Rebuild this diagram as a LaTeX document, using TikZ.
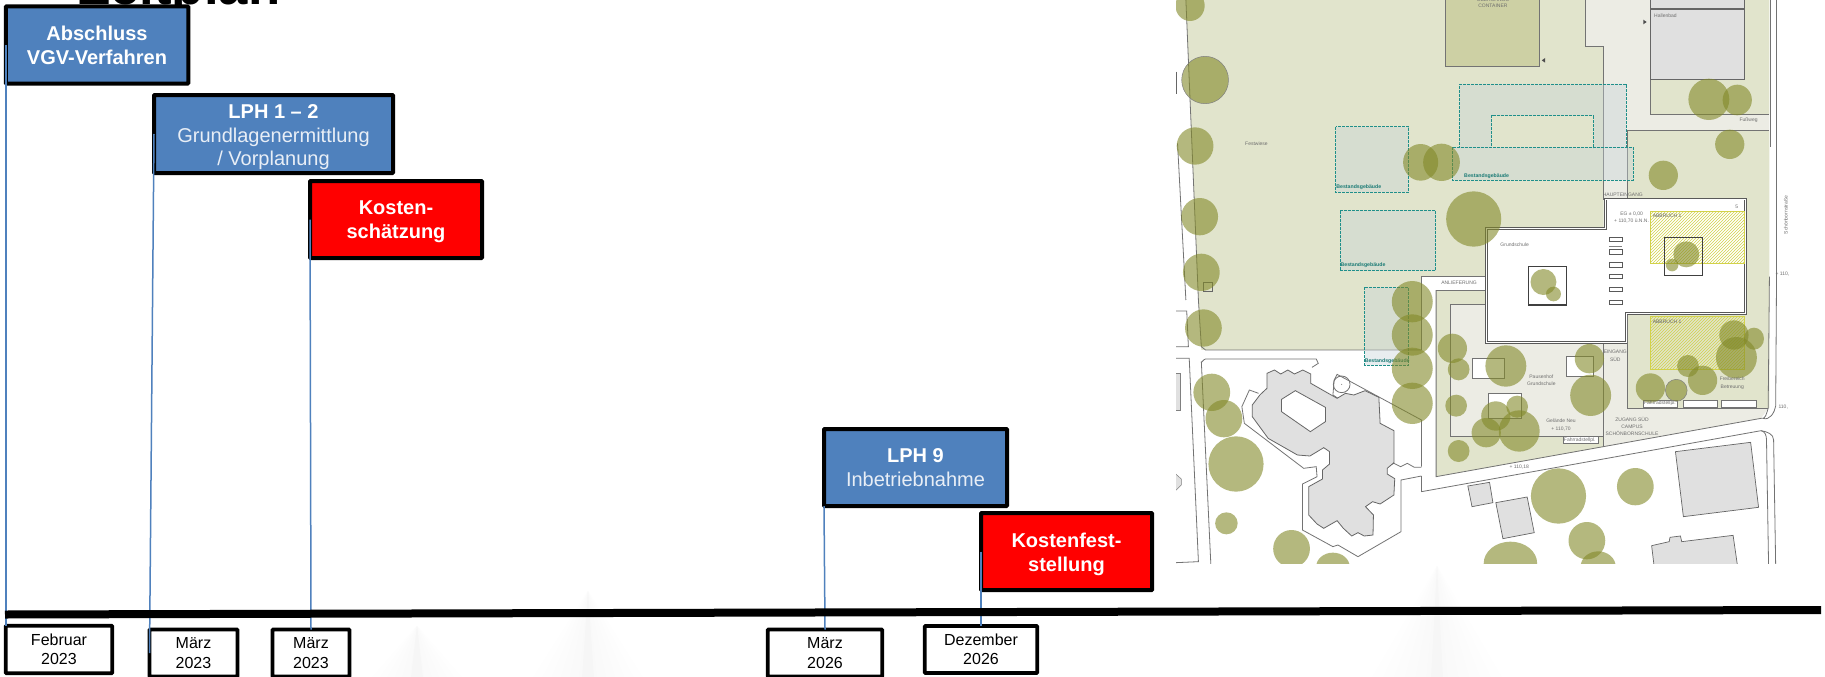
\documentclass[tikz,border=0pt]{standalone}
\usepackage{fontspec}
\setmainfont{Liberation Sans}
\usetikzlibrary{patterns}
\definecolor{boxblue}{HTML}{4F81BD}
\definecolor{linkblue}{HTML}{4F81BD}
\definecolor{lawn}{HTML}{E1E4CC}
\definecolor{paved}{HTML}{ECECE4}
\definecolor{contfill}{HTML}{CDD0A4}
\definecolor{bldg}{HTML}{E0E0E0}
\definecolor{treecol}{RGB}{130,137,40}
\definecolor{tealline}{HTML}{1F8F8A}
\definecolor{tealtint}{RGB}{197,210,215}
\definecolor{hatchcol}{HTML}{D2D24A}
\definecolor{maptext}{HTML}{6E6E6E}
\definecolor{subwhite}{HTML}{E8EEF6}
\tikzset{
  phase/.style={draw=black,line width=4pt,rounded corners=0.6pt,fill=boxblue,text=white,align=center,inner sep=0pt,outer sep=0pt,
    font=\fontsize{20}{23.8}\selectfont},
  costbox/.style={phase,fill=red,font=\fontsize{20}{24}\bfseries\selectfont},
  datebox/.style={draw=black,line width=3.6pt,rounded corners=0.6pt,fill=white,text=black,align=center,inner sep=0pt,outer sep=0pt,
    font=\fontsize{16}{19.5}\selectfont},
  link/.style={draw=linkblue,line width=1.5pt},
  tree/.style={fill=treecol,fill opacity=.6},
  graybd/.style={draw=black!60,line width=.9pt},
  road/.style={draw=black!55,line width=.8pt},
  teal/.style={draw=tealline,line width=.9pt,dash pattern=on 3pt off 1pt,fill=tealtint,fill opacity=.38},
  hatch/.style={draw=hatchcol,line width=.8pt,pattern=north east lines,pattern color=hatchcol},
  plan/.style={text=maptext,font=\fontsize{5}{6}\selectfont,inner sep=0pt,align=center},
  tealtxt/.style={text=tealline!85!black,font=\fontsize{5.2}{6}\bfseries\selectfont,inner sep=0pt},
}
\newcommand{\wmark}[3]{%
  \foreach \wi in {1,...,6}{\fill[black,opacity=.004] (#1,#2) -- ({#1-#3*\wi/6},677) -- ({#1+#3*\wi/6},677) -- cycle;}%
  \fill[black,opacity=.01] (#1,#2) -- ({#1-6},677) -- ({#1+6},677) -- cycle;}
\begin{document}
\begin{tikzpicture}[x=1pt,y=-1pt]
\useasboundingbox (0,0) rectangle (1825,677);
\fill[white] (0,0) rectangle (1825,677);
\wmark{417}{625}{45}
\wmark{588}{590}{55}
\wmark{1437}{565}{65}
% title, cut by the top edge
\node[anchor=base west,inner sep=0pt,font=\fontsize{52.7}{60}\bfseries\selectfont] (title) at (78,5) {Zeitplan};
% ---------- site plan ----------
\begin{scope}
\clip (1176,0) rectangle (1789,563);
\begin{scope}[xshift=1170pt,x=0.41771pt,y=-0.33333pt]
% ground
\fill[lawn] (38,0)--(995,0)--(995,140)--(1038,140)--(1038,690)--(757,690)--(757,830)--(602,830)--(602,1050)--(75,1050)--(68,900)--cycle;
\draw[road] (38,0)--(68,900)--(75,1040)--(85,1050)--(602,1050);
\fill[paved] (995,0)--(1150,0)--(1150,343)--(1435,343)--(1435,392)--(1095,392)--(1095,600)--(1038,600)--(1038,140)--(995,140)--cycle;
\fill[lawn] (1150,238)--(1375,238)--(1375,0)--(1435,0)--(1435,343)--(1150,343)--cycle;
\fill[lawn] (1095,392)--(1435,392)--(1435,1225)--(1095,1225)--(1095,595)--cycle;
\draw[road] (995,0)--(995,140)--(1038,140)--(1038,600);
\draw[road] (1150,238)--(1150,343)--(1435,343);
\draw[road] (1095,600)--(1095,392)--(1435,392);
\draw[road] (1437,0)--(1437,440);
\draw[road] (1452,0)--(1452,840);
% upper-left small lines
\draw[road] (18,430)--(38,900);
\draw[draw=black!60,line width=.6pt] (15,215)--(15,282);
% buildings upper right
\filldraw[fill=bldg,graybd] (1150,-5) rectangle (1375,25);
\filldraw[fill=bldg,graybd] (1150,28) rectangle (1375,238);
% container
\filldraw[fill=contfill,draw=black!55,line width=1pt] (660,-5) rectangle (885,201);
\fill[black!70] (898,174)--(898,188)--(890,181)--cycle;
\fill[black!70] (1133,59)--(1133,73)--(1141,66)--cycle;
% existing buildings
\filldraw[teal] (693,252)--(1092,252)--(1092,443)--(1014,443)--(1014,347)--(770,347)--(770,443)--(693,443)--cycle;
\filldraw[teal] (676,442) rectangle (1109,541);
\filldraw[teal] (397,380) rectangle (571,577);
\filldraw[teal] (407,632) rectangle (636,812);
\draw[draw=black!60,line width=.5pt] (80,848) rectangle (100,874);
\node[plan] (t1) at (207,432) {Festwiese};
\node[plan] (t2) at (1186,48) {Hallenbad};
\node[plan] (t3) at (1385,362) {Fußweg};
\node[plan] (t4) at (773,18) {CONTAINER};
\node[plan] (t5) at (773,-3) {ÜBERGANGS};
\node[plan] (t6) at (1084,583) {HAUPTEINGANG};
\node[tealtxt] (t7) at (452,562) {Bestandsgebäude};
\node[tealtxt] (t8) at (758,528) {Bestandsgebäude};
\node[tealtxt] (t9) at (462,797) {Bestandsgebäude};
\node[plan,rotate=90] (t10) at (1474,645) {Schönbornstraße};
\node[plan] (t11) at (1466,823) {+ 110,};
% anlieferung
\fill[white] (602,830) rectangle (757,870);
\draw[road] (602,1050)--(602,830)--(757,830);
\node[plan] (t12) at (692,849) {ANLIEFERUNG};
\end{scope}
\begin{scope}[xshift=1170pt,x=0.41771pt,y=-0.33333pt,yshift=-280pt]
% south yard
\fill[lawn] (637,30)--(755,30)--(755,190)--(1040,190)--(1040,500)--(637,590)--cycle;
\fill[paved] (672,73)--(755,73)--(755,190)--(1038,190)--(1038,468)--(672,468)--cycle;
\fill[paved] (1038,190)--(1095,190)--(1095,385)--(1432,385)--(1415,415)--(1040,500)--cycle;
\draw[road] (637,30)--(755,30);
\draw[road] (637,30)--(637,590)--(1415,415) to[out=-20,in=-110] (1432,385)--(1435,-10);
\draw[road] (755,73)--(672,73)--(672,468)--(1038,468);
\draw[road] (1038,190)--(1038,500);
\draw[road] (1095,100)--(1095,385)--(1432,385);
\draw[road] (1452,-10)--(1450,378) to[out=-100,in=-20] (1420,415);
\draw[road] (602,635)--(1415,452) to[out=-10,in=90] (1445,480)--(1450,860);
\draw[road] (1415,452) to[out=-10,in=90] (1428,480)--(1433,860);
\foreach \xa/\ya/\xb/\yb in {723/236/801/296,949/229/1014/289,763/340/842/415,942/470/1024/490,1133/362/1215/382,1228/362/1311/382,1320/362/1403/382}
  {\filldraw[fill=white,draw=black!55,line width=.5pt] (\xa,\ya) rectangle (\xb,\yb);}
% left road edges and stubs
\draw[road] (14,93)--(40,93)--(44,200)--(14,200);
\draw[road] (14,235)--(46,235)--(68,845)--(14,848);
\draw[road] (75,245) to[out=-90,in=180] (85,237)--(350,237)--(355,250)--(340,262);
\draw[road] (75,245)--(98,860);
\filldraw[fill=bldg,draw=black!50,line width=.5pt] (12,280)--(24,280)--(24,390)--(12,390)--cycle;
\filldraw[fill=bldg,draw=black!50,line width=.5pt] (12,580)--(27,597)--(27,615)--(15,630)--(12,630)--cycle;
% main hex building
\draw[road] (212,340)--(190,330)--(172,380)--(178,430)--(320,565)--(350,560)--(352,590)--(317,612)--(317,750)--(390,800)--(402,795)--(450,830)--(553,755)--(553,600)--(602,588);
\draw[road] (602,560)--(602,420)--(400,283)--(393,300)--(390,345)--(402,355);
\draw[road] (602,588)--(602,635);
\draw[road] (520,560)--(536,550)--(552,560)--(568,550)--(585,562)--(602,562);
\filldraw[fill=bldg,draw=black!60,line width=.8pt] (232,280)--(250,270)--(265,282)--(282,270)--(298,282)--(318,270)--(337,282)--(337,310)--(400,355)--(420,340)--(440,345)--(467,332)--(500,352)--(503,430)--(536,452)--(536,548)--(520,565)--(520,582)--(538,596)--(536,645)--(503,672)--(485,665)--(468,680)--(487,705)--(486,765)--(465,768)--(450,758)--(435,768)--(415,745)--(400,722)--(368,745)--(352,732)--(332,705)--(332,620)--(365,597)--(365,570)--(382,552)--(382,515)--(368,503)--(335,528)--(305,525)--(235,475)--(197,410)--(197,375)--(215,345)--(232,325)--cycle;
\filldraw[fill=white,draw=black!60,line width=.8pt] (267,358)--(300,332)--(372,382)--(372,425)--(336,455)--(267,395)--cycle;
\draw[road] (411,313) ellipse (20 and 25);
\fill[black!60] (411,313) circle (.5pt);
% low buildings
\filldraw[fill=bldg,draw=black!60,line width=.7pt] (713,618)--(765,607)--(773,668)--(723,680)--cycle;
\filldraw[fill=bldg,draw=black!60,line width=.7pt] (780,668)--(855,651)--(872,758)--(797,776)--cycle;
\filldraw[fill=bldg,draw=black!60,line width=.7pt] (1210,515)--(1390,487)--(1409,682)--(1229,710)--cycle;
\filldraw[fill=bldg,draw=black!60,line width=.7pt] (1153,797)--(1195,785)--(1197,772)--(1222,768)--(1225,785)--(1348,766)--(1360,870)--(1160,870)--cycle;
% school
\filldraw[fill=white,draw=black!65,line width=2.6pt] (757,-155)--(1042,-155)--(1042,-243)--(1378,-243)--(1378,100)--(1092,100)--(1092,188)--(757,188)--cycle;
\draw[white,line width=.7pt] (757,-155)--(1042,-155)--(1042,-243)--(1378,-243)--(1378,100)--(1092,100)--(1092,188)--(757,188)--cycle;
\foreach \ya/\yb in {-128/-116,-91/-76,-52/-39,-17/-4,22/35,60/73}
  {\draw[draw=black!65,line width=.6pt] (1052,\ya) rectangle (1083,\yb);}
\draw[draw=black!50,line width=.5pt] (1052,-100)--(1083,-100);
\filldraw[hatch] (1150,-207) rectangle (1375,-49);
\filldraw[hatch] (1150,110) rectangle (1375,267);
\draw[draw=black!75,line width=1.1pt] (859,-40) rectangle (950,75);
\draw[draw=black!75,line width=1.1pt] (1183,-127) rectangle (1274,-14);
\filldraw[teal] (466,22) rectangle (570,256);
\node[tealtxt] (t13) at (520,244) {Bestandsgebäude};
% trees
\foreach \xc/\yc/\rada/\radb in {
48/-823/35/46,60/-402/44/56,71/-190/44/56,75/-23/44/56,600/-353/42/55,650/-353/44/56,727/-183/66/83,
1290/-542/49/62,1358/-540/35/46,1340/-407/35/44,1181/-314/35/44,894/6/31/39,918/42/18/22,1236/-77/31/39,1202/-45/15/19,
580/65/49/62,80/144/44/56,580/165/49/62,580/265/49/62,580/370/49/62,100/337/44/56,129/416/44/56,158/552/66/83,135/730/27/33,
291/806/44/56,390/860/40/42,676/205/35/44,691/268/26/33,804/258/49/62,1004/236/35/44,1007/346/49/62,685/377/26/33,780/408/35/44,
831/380/26/33,757/458/35/44,836/453/49/62,691/513/26/33,1350/165/35/44,1398/176/24/33,1356/233/49/62,1240/258/26/33,1275/301/35/44,
1150/324/35/44,930/648/66/83,1114/620/44/56,998/782/44/56,815/850/64/65,1025/860/42/46}
  {\fill[tree] (\xc,\yc) ellipse ({\rada} and {\radb});}
\filldraw[tree,draw=black!50,line width=.5pt,draw opacity=1] (84,-600) ellipse (56 and 71);
\filldraw[tree,draw=black!50,line width=.5pt,draw opacity=1] (1212,331) ellipse (26 and 33);
% plan labels
\node[plan] (p1) at (1105,-199) {EG ± 0,00};
\node[plan] (p2) at (1105,-178) {+ 110,70 ü.N.N.};
\node[plan,text=black!60] (p3) at (1190,-192) {ABBRUCH 1};
\node[plan,text=black!60] (p4) at (1190,124) {ABBRUCH 1};
\node[plan] (p5) at (825,-106) {Grundschule};
\node[plan] (p6) at (1357,-219) {5};
\node[plan] (p7) at (1066,227) {EINGANG\\[2pt]SÜD};
\node[plan] (p8) at (889,302) {Pausenhof\\[1pt]Grundschule};
\node[plan] (p9) at (936,435) {Gelände Neu\\[2pt]+ 110,70};
\node[plan] (p10) at (981,480) {Fahrradstellpl.};
\node[plan] (p11) at (1173,371) {Fahrradstellpl.};
\node[plan] (p12) at (1106,438) {ZUGANG SÜD\\[1pt]CAMPUS\\[1pt]SCHÖNBORNSCHULE};
\node[plan] (p13) at (836,561) {+ 110,18};
\node[plan] (p14) at (1346,310) {Freibereich\\[2pt]Betreuung};
\node[plan] (p15) at (1468,381) {110,};
\end{scope}
\end{scope}
% ---------- milestones ----------
\node[phase,font=\fontsize{20}{23.8}\bfseries\selectfont,minimum width=182.5pt,minimum height=77pt] (abschluss) at (97,45) {Abschluss\\VGV-Verfahren};
\node[phase,minimum width=239pt,minimum height=78pt] (lph12) at (273.5,134) {\rule{0pt}{20pt}\textbf{LPH 1 – 2}\\[.2pt]\textcolor{subwhite}{Grundlagenermittlung}\\\textcolor{subwhite}{/ Vorplanung}};
\node[costbox,minimum width=172pt,minimum height=77pt] (kosten) at (396,219.5) {\rule{0pt}{19pt}Kosten-\\schätzung};
\node[phase,minimum width=183pt,minimum height=77pt] (lph9) at (915.5,467.5) {\textbf{LPH 9}\\\textcolor{subwhite}{Inbetriebnahme}};
\node[costbox,minimum width=171pt,minimum height=77pt] (kfest) at (1066.5,551.5) {\rule{0pt}{20pt}Kostenfest-\\stellung};
\node[datebox,minimum width=106.5pt,minimum height=47.5pt] (d1) at (59,649.5) {Februar\\2023};
\node[datebox,minimum width=88pt,minimum height=47pt] (d2) at (193.5,653) {März\\2023};
\node[datebox,minimum width=77pt,minimum height=47pt] (d3) at (311,653) {März\\2023};
\node[datebox,minimum width=114.5pt,minimum height=47pt] (d4) at (825,653) {März\\2026};
\node[datebox,minimum width=112.5pt,minimum height=47pt] (d5) at (981,649.5) {Dezember\\2026};
% connectors, drawn over the boxes
\draw[link] (abschluss.west) -- (abschluss.west |- d1.north);
\draw[link] (lph12.west) -- (d2.west);
\draw[link] (kosten.west) -- (d3.north);
\draw[link] (lph9.south west) -- (d4.north);
\draw[link] (kfest.west) -- (d5.north);
% time axis
\coordinate (axisL) at (5,614.5);
\coordinate (axisR) at (1821,610);
\draw[black,line width=8pt] (axisL) -- (axisR);
\end{tikzpicture}
\end{document}
